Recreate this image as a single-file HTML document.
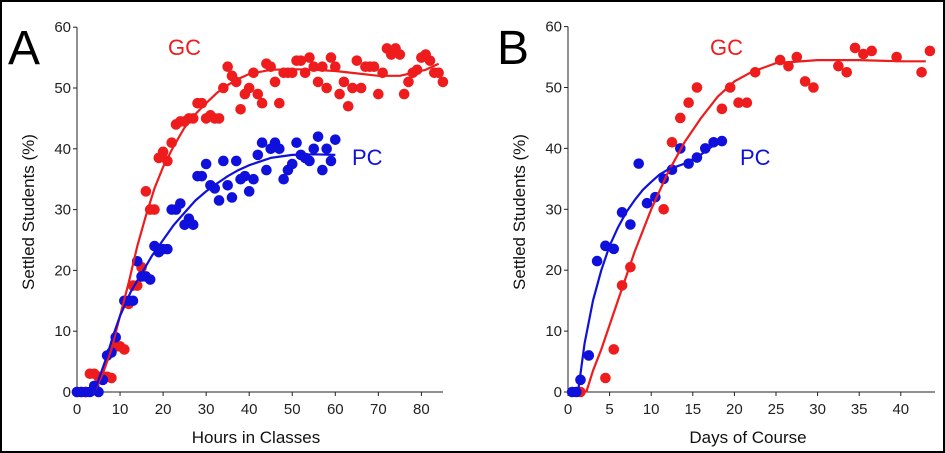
<!DOCTYPE html>
<html><head><meta charset="utf-8"><style>
body{margin:0;background:#fff}
svg{display:block;font-family:"Liberation Sans",sans-serif}
</style></head><body>
<svg id="s" width="945" height="453" viewBox="0 0 945 453" xmlns="http://www.w3.org/2000/svg">
<rect x="1" y="1" width="943" height="451" fill="#fff" stroke="#000" stroke-width="2"/>
</svg>
<script>
const S=document.getElementById('s'),NS='http://www.w3.org/2000/svg';
function el(t,a,txt){const e=document.createElementNS(NS,t);for(const k in a)e.setAttribute(k,a[k]);if(txt!=null)e.textContent=txt;S.appendChild(e);return e;}
const R='#ee1c1c',B='#1010dd';
function panel(o){
 const X=v=>o.x0+v*o.sx, Y=v=>o.y0-v*o.sy;
 el('line',{x1:o.x0,y1:o.y0,x2:o.x0,y2:Y(60),stroke:'#222','stroke-width':1});
 el('line',{x1:o.x0,y1:o.y0,x2:o.xend,y2:o.y0,stroke:'#222','stroke-width':1});
 for(let v=0;v<=60;v+=10){el('line',{x1:o.x0-4,y1:Y(v),x2:o.x0,y2:Y(v),stroke:'#222'});
  el('text',{x:o.x0-6,y:Y(v)+5,'font-size':15,'text-anchor':'end',fill:'#222'},v);}
 for(const v of o.xt){el('line',{x1:X(v),y1:o.y0,x2:X(v),y2:o.y0+4,stroke:'#222'});
  el('text',{x:X(v),y:o.y0+22,'font-size':15,'text-anchor':'middle',fill:'#222'},v);}
 el('text',{x:o.xlx,y:443,'font-size':17,'text-anchor':'middle',fill:'#111'},o.xl);
 el('text',{x:0,y:0,'font-size':17,'text-anchor':'middle',fill:'#111',transform:`translate(${o.x0-43},212) rotate(-90)`},'Settled Students (%)');
 el('text',{x:o.lx,y:64,'font-size':48,fill:'#000'},o.L);
 for(const [d,c] of [[o.gd,R],[o.pd,B]]) for(const p of d) el('circle',{cx:X(p[0]),cy:Y(p[1]),r:5.3,fill:c});
 for(const [d,c] of [[o.gc,R],[o.pc,B]]){
  let s='M'+d.map(p=>X(p[0]).toFixed(1)+','+Y(p[1]).toFixed(1)).join(' L');
  el('path',{d:s,fill:'none',stroke:c,'stroke-width':2.2,'stroke-linejoin':'round'});}
 el('text',{x:o.gl[0],y:o.gl[1],'font-size':22,fill:R},'GC');
 el('text',{x:o.pl[0],y:o.pl[1],'font-size':22,fill:B},'PC');
}
panel({x0:77,y0:392,sx:4.305,sy:6.08,xend:443,xt:[0,10,20,30,40,50,60,70,80],xl:'Hours in Classes',xlx:256,lx:8,L:'A',gl:[168,55],pl:[352,165],
gd:[[0,0],[1,0],[2,0],[3,3],[4,3],[5,2.5],[6,2.5],[7,2.5],[8,2.3],[9,7.5],[10,7.5],[11,7],[12,14.5],[13,17.5],[14,17.5],[15,20.5],[16,33],[17,30],[18,30],[19,38.5],[20,39.5],[21,38],[22,41],[23,44],[24,44.5],[25,44.5],[26,45],[27,45],[28,47.5],[29,47.5],[30,45],[31,45.5],[32,45],[33,45],[34,50],[35,53.5],[36,52],[37,51],[38,46.5],[39,49],[40,50],[41,52.5],[42,49],[43,47.5],[44,54],[45,53.5],[46,51],[47,47.5],[48,52.5],[49,52.5],[50,52.5],[51,54.5],[52,54.5],[53,52.5],[54,55],[55,53.5],[56,51],[57,53.5],[58,50],[59,55],[60,53.5],[61,49],[62,51],[63,47],[64,50],[65,54.5],[66,50],[67,53.5],[68,53.5],[69,53.5],[70,49],[71,52.5],[72,56.5],[73,55.5],[74,56.5],[75,55.5],[76,49],[77,51],[78,52.5],[79,53],[80,55],[81,55.5],[82,54.5],[83,52.5],[84,52.5],[85,51]],
pd:[[0,0],[1,0],[2,0],[3,0],[4,1],[5,0],[6,2],[7,6],[8,6.5],[9,9],[11,15],[12,15],[13,15],[14,21.5],[15,19],[16,19],[17,18.5],[18,24],[19,23],[20,23.5],[21,23.5],[22,30],[23,30],[24,31],[25,27.5],[26,28.5],[27,27.5],[28,35.5],[29,35.5],[30,37.5],[31,34],[32,33.5],[33,31.5],[34,38],[35,34],[36,32],[37,38],[38,35],[39,35.5],[40,33],[41,35],[42,39],[43,41],[44,36.5],[45,40],[46,41],[47,40],[48,35],[49,36.5],[50,37.5],[51,41],[52,39],[53,38.5],[54,38],[55,40],[56,42],[57,36.5],[58,40],[59,38],[60,41.5]],
gc:[[4,0],[6,3],[8,7],[10,12.5],[12,18],[14,24],[16,29],[18,33.5],[20,37],[22.5,40.5],[25,43.5],[27.5,45.7],[30,47.5],[32.5,49.2],[35,50.5],[37.5,51.5],[40,52.3],[45,53],[50,53.1],[55,53],[60,52.8],[65,52.4],[70,52],[75,52],[78,52.5],[81,53],[84,54]],
pc:[[4,0],[5.5,3],[7,6],[8.5,9.5],[10,12.5],[12.5,16.5],[15,19.5],[17.5,22.5],[20,25],[22.5,27.5],[25,29.5],[27.5,31.5],[30,33],[32.5,34.3],[35,35.5],[37.5,36.5],[40,37.3],[45,38.5],[50,39],[55,39.1],[60,39]]});
panel({x0:568,y0:392,sx:8.32,sy:6.09,xend:935,xt:[0,5,10,15,20,25,30,35,40],xl:'Days of Course',xlx:748,lx:497,L:'B',gl:[710,55],pl:[740,165],
gd:[[1.5,0],[4.5,2.3],[5.5,7],[6.5,17.5],[7.5,20.5],[11.5,30],[12.5,41],[13.5,45],[14.5,47.5],[15.5,50],[18.5,46.5],[19.5,50],[20.5,47.5],[21.5,47.5],[22.5,52.5],[25.5,54.5],[26.5,53.5],[27.5,55],[28.5,51],[29.5,50],[32.5,53.5],[33.5,52.5],[34.5,56.5],[35.5,55.5],[36.5,56],[39.5,55],[42.5,52.5],[43.5,56]],
pd:[[0.5,0],[1,0],[1.5,2],[2.5,6],[3.5,21.5],[4.5,24],[5.5,23.5],[6.5,29.5],[7.5,27.5],[8.5,37.5],[9.5,31],[10.5,32],[11.5,35],[12.5,36.5],[13.5,40],[14.5,37.5],[15.5,38.5],[16.5,40],[17.5,41],[18.5,41.2]],
gc:[[2.2,0],[3,3.5],[4,7],[6,15],[8,23],[10,30],[12,36],[14,41],[16,45],[18,48.5],[20,51],[22,52.5],[25,54],[30,54.5],[35,54.5],[40,54.3],[43,54.3]],
pc:[[1.2,0],[2,8],[3,15],[4,20],[5,24],[6,27],[7,29.5],[8,31.5],[9,33.2],[10,34.5],[11,35.7],[12,36.5],[13,37],[14,37.5],[15,38.2],[16,39],[17,40],[18,41]]});
</script>
</body></html>
